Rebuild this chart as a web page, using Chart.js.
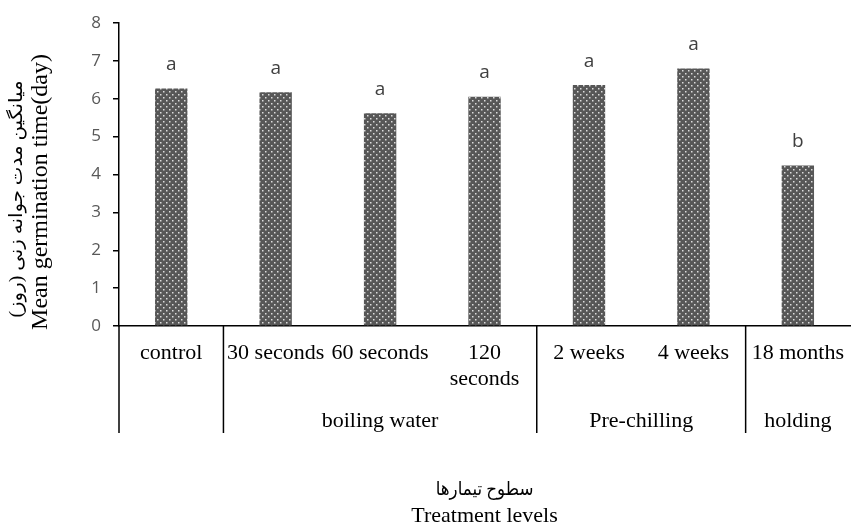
<!DOCTYPE html>
<html>
<head>
<meta charset="utf-8">
<script src="https://cdn.jsdelivr.net/npm/chart.js@4"></script>
<style>
html, body { margin: 0; padding: 0; background: #fff; overflow: hidden; }
#wrap { width: 851px; height: 529px; overflow: hidden; }
canvas { display: block; }
</style>
</head>
<body>
<div id="wrap"><canvas id="chart" width="858" height="529"></canvas></div>
<script>
// data
const treatments = ['control', '30 seconds', '60 seconds', ['120', 'seconds'], '2 weeks', '4 weeks', '18 months'];
const meanTime = [6.27, 6.17, 5.62, 6.05, 6.36, 6.80, 4.24];
const letters = ['a', 'a', 'a', 'a', 'a', 'a', 'b'];
const groupNames = ['', 'boiling water', 'Pre-chilling', 'holding'];
const groupStart = [0, 1, 4, 6];
const groupEnd = [0, 3, 5, 6];
const yMin = 0, yMax = 8, yStep = 1;

const yTitleFa = 'میانگین مدت جوانه زنی (روز)';
const yTitleEn = 'Mean germination time(day)';
const xTitleFa = 'سطوح تیمارها';
const xTitleEn = 'Treatment levels';

const serif = '"Liberation Serif", "Times New Roman", "DejaVu Serif", serif';
const persian = '"Liberation Serif", "DejaVu Sans", serif';
const sans = '"Open Sans", "DejaVu Sans", sans-serif';

// dotted fill like the original bars
function makePattern() {
    const c = document.createElement('canvas');
    c.width = 6; c.height = 6;
    const p = c.getContext('2d');
    p.fillStyle = '#575757';
    p.fillRect(0, 0, 6, 6);
    p.fillStyle = '#dcdcdc';
    p.fillRect(1, 1, 1.5, 1.5);
    p.fillRect(4, 4, 1.5, 1.5);
    return p.createPattern(c, 'repeat');
}

const canvas = document.getElementById('chart');
const ctx = canvas.getContext('2d');
const barFill = makePattern();

// letters on top of bars
const letterPlugin = {
    id: 'letters',
    afterDatasetsDraw(chart) {
        const c = chart.ctx;
        const meta = chart.getDatasetMeta(0);
        c.save();
        c.font = '19px ' + sans;
        c.fillStyle = '#404040';
        c.textAlign = 'center';
        c.textBaseline = 'middle';
        meta.data.forEach((bar, i) => {
            c.fillText(letters[i], bar.x, bar.y - 24);
        });
        c.restore();
    }
};

// group row, separators and axis titles
const groupPlugin = {
    id: 'groups',
    afterDraw(chart) {
        const c = chart.ctx;
        const x = chart.scales.x;
        const area = chart.chartArea;
        const half = (x.getPixelForValue(1) - x.getPixelForValue(0)) / 2;
        const lineBottom = area.bottom + 107;

        c.save();
        c.strokeStyle = '#000';
        c.lineWidth = 1.5;
        for (let g = 0; g < groupStart.length; g++) {
            const left = x.getPixelForValue(groupStart[g]) - half;
            c.beginPath();
            c.moveTo(left, area.bottom);
            c.lineTo(left, lineBottom);
            c.stroke();
        }

        c.fillStyle = '#000';
        c.font = '22px ' + serif;
        c.textAlign = 'center';
        c.textBaseline = 'middle';
        for (let g = 0; g < groupNames.length; g++) {
            if (!groupNames[g]) continue;
            const mid = (x.getPixelForValue(groupStart[g]) + x.getPixelForValue(groupEnd[g])) / 2;
            c.fillText(groupNames[g], mid, area.bottom + 95);
        }

        // x title
        const cx = (area.left + area.right) / 2;
        c.font = '22px ' + serif;
        c.fillText(xTitleEn, cx, area.bottom + 190);
        c.save();
        c.translate(cx, area.bottom + 164);
        c.scale(0.88, 1);
        c.direction = 'rtl';
        c.font = '19px ' + persian;
        c.fillText(xTitleFa, 0, 0);
        c.restore();

        // y title
        c.save();
        c.translate(41, 192);
        c.rotate(-Math.PI / 2);
        c.direction = 'ltr';
        c.font = '24px ' + serif;
        c.fillText(yTitleEn, 0, 0);
        c.restore();

        c.save();
        c.translate(17, 199);
        c.rotate(-Math.PI / 2);
        c.scale(1.1, 1);
        c.direction = 'rtl';
        c.font = '18px ' + persian;
        c.fillText(yTitleFa, 0, 0);
        c.restore();

        c.restore();
    }
};

new Chart(ctx, {
    type: 'bar',
    data: {
        labels: treatments,
        datasets: [{
            data: meanTime,
            backgroundColor: barFill,
            borderWidth: 0,
            barPercentage: 0.31,
            categoryPercentage: 1
        }]
    },
    options: {
        responsive: false,
        animation: false,
        layout: { padding: { top: 23, right: 0, left: 0, bottom: 0 } },
        plugins: {
            legend: { display: false },
            tooltip: { enabled: false }
        },
        scales: {
            x: {
                offset: true,
                grid: { display: false, drawTicks: false },
                border: { display: true, color: '#000', width: 1.5 },
                ticks: {
                    autoSkip: false,
                    maxRotation: 0,
                    minRotation: 0,
                    padding: 14,
                    color: '#000',
                    font: { family: serif, size: 22, lineHeight: 1.2 }
                },
                afterFit(scale) { scale.height = 203; }
            },
            y: {
                min: yMin,
                max: yMax,
                ticks: {
                    stepSize: yStep,
                    padding: 12,
                    color: '#595959',
                    font: { family: sans, size: 17 }
                },
                grid: { drawOnChartArea: false, drawTicks: true, tickLength: 6, color: '#000', lineWidth: 1.5 },
                border: { display: true, color: '#000', width: 1.5 },
                afterFit(scale) { scale.width = 119; }
            }
        }
    },
    plugins: [letterPlugin, groupPlugin]
});
</script>
</body>
</html>
